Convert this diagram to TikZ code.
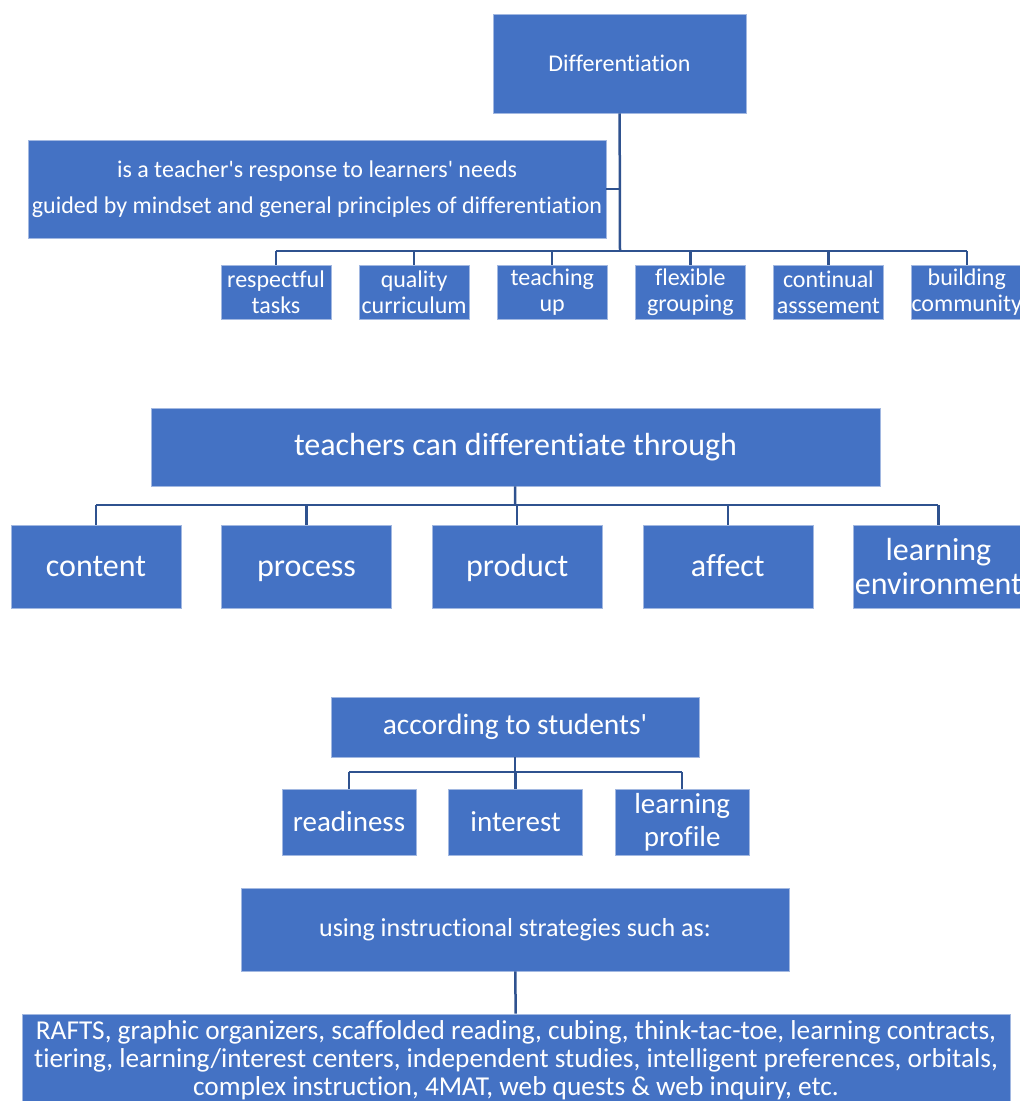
\documentclass[tikz,border=0pt]{standalone}
\usepackage{fontspec}
\setmainfont{Carlito}[Ligatures=NoCommon]
\usetikzlibrary{positioning}

\definecolor{boxblue}{HTML}{4472C4}
\definecolor{lineblue}{HTML}{2F528F}
\newcommand{\apos}{\textquotesingle}

\begin{document}
\begin{tikzpicture}[
    x=1pt, y=-1pt,
    box/.style={rectangle, fill=boxblue, draw=boxblue!50!white, line width=0.6pt, text=white, align=center, inner sep=0pt},
    small/.style={box, minimum width=110pt, minimum height=54pt, font=\fontsize{24}{26}\selectfont},
    big/.style={box, minimum width=170pt, minimum height=83pt, text height=22pt, text depth=3pt, font=\fontsize{32}{34}\selectfont},
    mid/.style={box, minimum width=134pt, minimum height=66pt, font=\fontsize{29}{33}\selectfont},
    link/.style={draw=lineblue, line width=2.5pt}
]
\useasboundingbox (0,0) rectangle (1020,1101);

% Definition
\node [box, minimum width=253pt, minimum height=99pt, font=\fontsize{24}{26}\selectfont] (diff) at (619.5,63.5) {Differentiation};
\node [box, minimum width=578pt, minimum height=98pt, font=\fontsize{24}{36}\selectfont] (resp) at (317,189) {is a teacher\apos s response to learners\apos{} needs\\guided by mindset and general principles of differentiation};

% Principles
\node [small] (tasks) at (276,292) {respectful\\tasks};
\node [small, right=27.5pt of tasks] (curric) {quality\\curriculum};
\node [small, right=27.5pt of curric] (up) {teaching\\up};
\node [small, right=27.5pt of up] (group) {flexible\\grouping};
\node [small, right=27.5pt of group] (assess) {continual\\asssement};
\node [small, right=27.5pt of assess] (comm) {building\\community};

\coordinate (bar1) at (620,251);
\draw [link] (diff) -- (bar1);
\draw [link] (resp) -- (resp.east -| bar1);
\draw [link] (tasks.north |- bar1) -- (comm.north |- bar1);
\draw [link] (tasks.north |- bar1) -- (tasks);
\draw [link] (curric.north |- bar1) -- (curric);
\draw [link] (up.north |- bar1) -- (up);
\draw [link] (group.north |- bar1) -- (group);
\draw [link] (assess.north |- bar1) -- (assess);
\draw [link] (comm.north |- bar1) -- (comm);

% Ways to differentiate
\node [box, minimum width=729pt, minimum height=78pt, font=\fontsize{32}{36}\selectfont] (through) at (515.5,447) {teachers can differentiate through};
\node [big] (content) at (96,566.5) {content};
\node [big, right=40pt of content] (process) {process};
\node [big, right=40pt of process] (product) {product};
\node [big, right=40pt of product] (affect) {affect};
\node [big, right=40pt of affect, text height=, text depth=] (envir) {learning\\environment};

\coordinate (bar2) at (515,505);
\draw [link] (through) -- (bar2);
\draw [link] (content.north |- bar2) -- (envir.north |- bar2);
\draw [link] (content.north |- bar2) -- (content);
\draw [link] (process.north |- bar2) -- (process);
\draw [link] (product.north |- bar2) -- (product);
\draw [link] (affect.north |- bar2) -- (affect);
\draw [link] (envir.north |- bar2) -- (envir);

% Student traits
\node [box, minimum width=368pt, minimum height=60pt, font=\fontsize{29.5}{33}\selectfont] (students) at (515,727) {according to students\apos};
\node [mid] (ready) at (349,822) {readiness};
\node [mid, right=32pt of ready] (interest) {interest};
\node [mid, right=32pt of interest] (profile) {learning\\profile};

\coordinate (bar3) at (515,772);
\draw [link] (students) -- (bar3);
\draw [link] (ready.north |- bar3) -- (profile.north |- bar3);
\draw [link] (ready.north |- bar3) -- (ready);
\draw [link] (interest.north |- bar3) -- (interest);
\draw [link] (profile.north |- bar3) -- (profile);

% Strategies
\node [box, minimum width=548pt, minimum height=83pt, font=\fontsize{26}{30}\selectfont] (strat) at (515,929.5) {using instructional strategies such as:};
\node [box, minimum width=988pt, minimum height=92pt, font=\fontsize{27.3}{28}\selectfont] (list) at (516,1060) {RAFTS, graphic organizers, scaffolded reading, cubing, think-tac-toe, learning contracts,\\tiering, learning/interest centers, independent studies, intelligent preferences, orbitals,\\complex instruction, 4MAT, web quests \& web inquiry, etc.};
\draw [link] (strat) -- (list);

\end{tikzpicture}
\end{document}
